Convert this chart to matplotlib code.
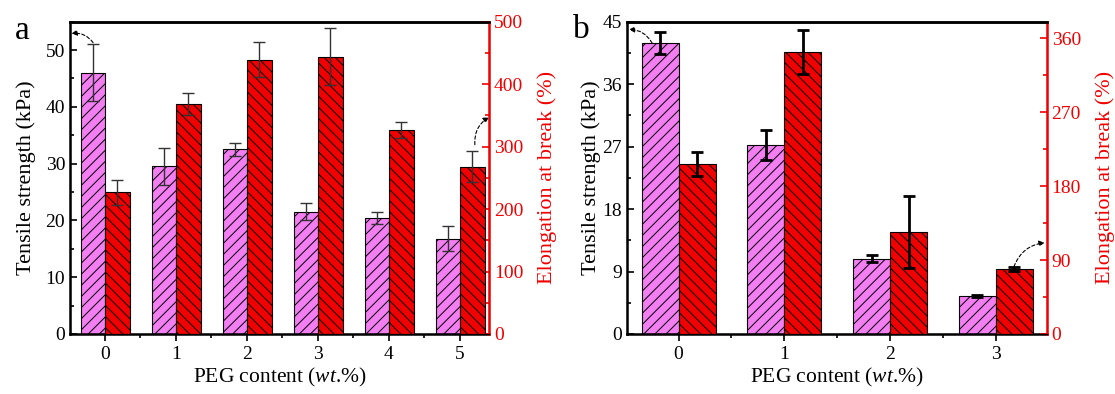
import matplotlib
matplotlib.use('Agg')
import matplotlib.pyplot as plt
import numpy as np
from matplotlib.ticker import MultipleLocator

plt.rcParams['font.family'] = 'Liberation Serif'
plt.rcParams['mathtext.fontset'] = 'custom'
plt.rcParams['mathtext.rm'] = 'Liberation Serif'
plt.rcParams['mathtext.it'] = 'Liberation Serif:italic'
plt.rcParams['hatch.linewidth'] = 0.7

# panel a
peg_a = [0, 1, 2, 3, 4, 5]
ts_a = [46.0, 29.5, 32.5, 21.5, 20.4, 16.8]
ts_err_a = [5.0, 3.3, 1.15, 1.5, 1.0, 2.2]
el_a = [227, 368, 439, 444, 326, 268]
el_err_a = [20, 18, 28, 46, 13, 25]

# panel b
peg_b = [0, 1, 2, 3]
ts_b = [41.9, 27.2, 10.85, 5.5]
ts_err_b = [1.55, 2.2, 0.5, 0.15]
el_b = [207, 343, 124, 79]
el_err_b = [14.6, 27, 44, 2]

pink = '#F27EF2'
red = '#F00000'

fig = plt.figure(figsize=(11.15, 3.94), dpi=100)
ax1 = fig.add_axes([0.0628, 0.1523, 0.3758, 0.7927])
ax2 = fig.add_axes([0.5621, 0.1523, 0.3767, 0.7927])


def draw(ax, x, ts, ts_err, el, el_err, w1, w2, ylim, rlim, lmaj, lmin, rmaj, rmin, xlim,
         ecol, elw, lpad, rpad):
    x = np.array(x)
    ax.bar(x - w1 / 2, ts, width=w1, color=pink, edgecolor='black', linewidth=0.8,
           hatch='///', zorder=2)
    ax.errorbar(x - w1 / 2, ts, yerr=ts_err, fmt='none', ecolor=ecol, elinewidth=elw,
                capsize=4, capthick=elw, zorder=3)
    ax.set_xlim(*xlim)
    ax.set_ylim(*ylim)
    ax.set_xticks(x)
    ax.xaxis.set_minor_locator(MultipleLocator(0.5))
    ax.yaxis.set_major_locator(MultipleLocator(lmaj))
    ax.yaxis.set_minor_locator(MultipleLocator(lmin))
    ax.tick_params(axis='x', which='major', direction='out', length=5, width=1.2, labelsize=14)
    ax.tick_params(axis='x', which='minor', direction='out', length=3, width=1.2)
    ax.tick_params(axis='y', which='major', direction='in', length=5, width=1.2, labelsize=14)
    ax.tick_params(axis='y', which='minor', direction='in', length=3, width=1.2)
    ax.set_ylabel('Tensile strength (kPa)', fontsize=16, labelpad=lpad)
    ax.set_xlabel('PEG content ($\\it{wt}$.%)', fontsize=15.5, labelpad=2)
    for s in ['left', 'bottom', 'top']:
        ax.spines[s].set_linewidth(1.8)

    axr = ax.twinx()
    axr.bar(x + w2 / 2, el, width=w2, color=red, edgecolor='black', linewidth=0.8,
            hatch='\\\\\\', zorder=2)
    axr.errorbar(x + w2 / 2, el, yerr=el_err, fmt='none', ecolor=ecol, elinewidth=elw,
                 capsize=4, capthick=elw, zorder=3)
    axr.set_ylim(*rlim)
    axr.yaxis.set_major_locator(MultipleLocator(rmaj))
    axr.yaxis.set_minor_locator(MultipleLocator(rmin))
    axr.tick_params(axis='y', which='major', direction='in', length=5, width=1.2,
                    colors=red, labelsize=14)
    axr.tick_params(axis='y', which='minor', direction='in', length=3, width=1.2, colors=red)
    axr.spines['right'].set_color(red)
    axr.spines['right'].set_linewidth(1.8)
    axr.spines['top'].set_linewidth(1.8)
    axr.set_ylabel('Elongation at break (%)', fontsize=16, color=red, labelpad=rpad)
    return axr


ar1 = draw(ax1, peg_a, ts_a, ts_err_a, el_a, el_err_a, 0.33, 0.35, (0, 55), (0, 500),
           10, 5, 100, 50, (-0.49, 5.41), '#333333', 1.0, 7, 10)
ar2 = draw(ax2, peg_b, ts_b, ts_err_b, el_b, el_err_b, 0.35, 0.35, (0, 45), (0, 380),
           9, 4.5, 90, 45, (-0.49, 3.48), 'black', 2.0, 1, 10)

arrow = dict(arrowstyle='-|>', color='black', lw=0.8, linestyle=(0, (3, 2)),
             mutation_scale=8, shrinkA=0, shrinkB=0)
ax1.annotate('', xy=(-0.47, 52.9), xytext=(-0.165, 51.3),
             arrowprops=dict(arrow, connectionstyle='arc3,rad=0.3'))
ar1.annotate('', xy=(5.41, 347), xytext=(5.21, 303),
             arrowprops=dict(arrow, connectionstyle='arc3,rad=-0.3'))
ax2.annotate('', xy=(-0.47, 43.85), xytext=(-0.25, 41.9),
             arrowprops=dict(arrow, connectionstyle='arc3,rad=0.3'))
ar2.annotate('', xy=(3.46, 111), xytext=(3.17, 82),
             arrowprops=dict(arrow, connectionstyle='arc3,rad=-0.3'))

fig.text(0.013, 0.922, 'a', fontsize=24, va='center', ha='left')
fig.text(0.514, 0.925, 'b', fontsize=24, va='center', ha='left')

fig.savefig('out.png', dpi=100)
